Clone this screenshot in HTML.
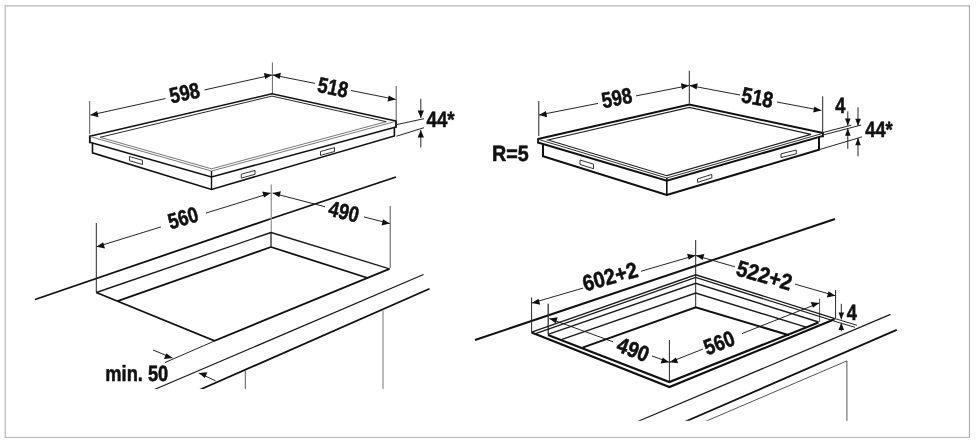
<!DOCTYPE html>
<html><head><meta charset="utf-8"><title>Einbauskizze</title>
<style>
html,body{margin:0;padding:0;background:#fff;}
body{width:976px;height:441px;overflow:hidden;}
svg{display:block;will-change:transform;}
svg text{font-family:"Liberation Sans",sans-serif;font-weight:bold;fill:#111;stroke:#111;stroke-linejoin:round;text-rendering:geometricPrecision;}
</style></head><body>
<svg width="976" height="441" viewBox="0 0 976 441">
<rect x="0" y="0" width="976" height="441" fill="#fff"/>
<line x1="4.60" y1="5.90" x2="970.00" y2="5.90" stroke="#cbcbcb" stroke-width="1.6" stroke-linecap="butt"/>
<line x1="5.30" y1="5.10" x2="5.30" y2="438.00" stroke="#c4c4c4" stroke-width="1.5" stroke-linecap="butt"/>
<line x1="969.40" y1="5.10" x2="969.40" y2="438.00" stroke="#9c9c9c" stroke-width="0.9" stroke-linecap="butt"/>
<line x1="4.60" y1="437.40" x2="970.00" y2="437.40" stroke="#b4b4b4" stroke-width="1.0" stroke-linecap="butt"/>
<line x1="89.70" y1="101.00" x2="89.70" y2="134.00" stroke="#555" stroke-width="1.0" stroke-linecap="butt"/>
<line x1="272.40" y1="62.50" x2="272.40" y2="93.00" stroke="#666" stroke-width="1.0" stroke-linecap="butt"/>
<line x1="396.20" y1="86.00" x2="396.20" y2="120.00" stroke="#555" stroke-width="1.0" stroke-linecap="butt"/>
<line x1="90.30" y1="115.10" x2="165.50" y2="98.51" stroke="#262626" stroke-width="1.0" stroke-linecap="butt"/>
<line x1="204.50" y1="89.91" x2="272.10" y2="75.00" stroke="#262626" stroke-width="1.0" stroke-linecap="butt"/>
<polygon points="90.30,115.10 97.15,110.99 98.51,117.15" fill="#111"/>
<polygon points="272.10,75.00 265.25,79.11 263.89,72.95" fill="#111"/>
<line x1="272.70" y1="75.00" x2="315.00" y2="83.39" stroke="#262626" stroke-width="1.0" stroke-linecap="butt"/>
<line x1="351.00" y1="90.53" x2="395.70" y2="99.40" stroke="#262626" stroke-width="1.0" stroke-linecap="butt"/>
<polygon points="272.70,75.00 280.86,72.84 279.63,79.02" fill="#111"/>
<polygon points="395.70,99.40 387.54,101.56 388.77,95.38" fill="#111"/>
<text transform="translate(184.50,92.50) rotate(-12) skewX(0) scale(0.83000,1.00000)" x="0" y="7.88" font-size="22" stroke-width="0.55" text-anchor="middle">598</text>
<text transform="translate(333.00,87.00) rotate(11.5) skewX(0) scale(0.83000,1.00000)" x="0" y="7.88" font-size="22" stroke-width="0.55" text-anchor="middle">518</text>
<path d="M89.80,136.30 L272.00,93.80 L396.00,121.00" fill="none" stroke="#111" stroke-width="1.5" stroke-linejoin="miter"/>
<path d="M89.80,136.50 L211.50,171.00 L396.00,121.30" fill="none" stroke="#777" stroke-width="1.0" stroke-linejoin="miter"/>
<path d="M100.00,137.30 L211.50,168.80 L386.20,121.70" fill="none" stroke="#777" stroke-width="1.0" stroke-linejoin="miter"/>
<path d="M100.00,137.30 L272.00,96.10 L386.20,121.70" fill="none" stroke="#2a2a2a" stroke-width="1.0" stroke-linejoin="miter"/>
<path d="M89.80,142.30 L211.50,177.00 L396.00,127.00" fill="none" stroke="#111" stroke-width="1.6" stroke-linejoin="miter"/>
<line x1="89.80" y1="135.50" x2="89.80" y2="143.20" stroke="#111" stroke-width="1.8" stroke-linecap="butt"/>
<line x1="396.00" y1="120.20" x2="396.00" y2="127.80" stroke="#111" stroke-width="1.8" stroke-linecap="butt"/>
<path d="M92.50,143.00 L92.50,152.80 L211.50,189.40 L394.40,136.00 L394.40,127.50" fill="none" stroke="#111" stroke-width="1.6" stroke-linejoin="miter"/>
<line x1="211.50" y1="171.00" x2="211.50" y2="190.00" stroke="#111" stroke-width="1.4" stroke-linecap="butt"/>
<path d="M129.40,156.50 L142.50,160.30 L142.50,164.50 L129.40,160.70 Z" fill="none" stroke="#333" stroke-width="1.0" stroke-linejoin="round"/>
<path d="M241.30,174.20 L255.00,170.40 L255.00,174.30 L241.30,178.10 Z" fill="none" stroke="#333" stroke-width="1.0" stroke-linejoin="round"/>
<path d="M320.50,151.50 L334.50,147.60 L334.50,151.50 L320.50,155.40 Z" fill="none" stroke="#333" stroke-width="1.0" stroke-linejoin="round"/>
<line x1="420.80" y1="98.80" x2="420.80" y2="118.00" stroke="#262626" stroke-width="1.0" stroke-linecap="butt"/>
<polygon points="420.80,118.00 417.65,110.40 423.95,110.40" fill="#111"/>
<line x1="420.80" y1="130.00" x2="420.80" y2="147.50" stroke="#262626" stroke-width="1.0" stroke-linecap="butt"/>
<polygon points="420.80,130.00 423.95,137.60 417.65,137.60" fill="#111"/>
<line x1="397.00" y1="124.50" x2="424.00" y2="118.70" stroke="#262626" stroke-width="1.0" stroke-linecap="butt"/>
<line x1="396.50" y1="136.20" x2="424.00" y2="127.70" stroke="#262626" stroke-width="1.0" stroke-linecap="butt"/>
<text transform="translate(440.60,119.30) rotate(0) skewX(0) scale(0.85000,1.00000)" x="0" y="7.88" font-size="22" stroke-width="0.55" text-anchor="middle">44*</text>
<line x1="35.00" y1="299.50" x2="270.00" y2="219.00" stroke="#111" stroke-width="1.8" stroke-linecap="butt"/>
<line x1="270.00" y1="219.00" x2="396.00" y2="177.00" stroke="#111" stroke-width="1.8" stroke-linecap="butt"/>
<line x1="96.30" y1="223.00" x2="96.30" y2="292.50" stroke="#262626" stroke-width="1.0" stroke-linecap="butt"/>
<line x1="271.30" y1="184.40" x2="271.30" y2="232.50" stroke="#999" stroke-width="1.3" stroke-linecap="butt"/>
<line x1="271.00" y1="232.00" x2="271.00" y2="247.00" stroke="#1a1a1a" stroke-width="1.2" stroke-linecap="butt"/>
<line x1="390.20" y1="206.00" x2="390.20" y2="268.00" stroke="#666" stroke-width="1.1" stroke-linecap="butt"/>
<line x1="96.60" y1="246.80" x2="161.00" y2="226.92" stroke="#262626" stroke-width="1.0" stroke-linecap="butt"/>
<line x1="206.00" y1="213.04" x2="270.60" y2="193.10" stroke="#262626" stroke-width="1.0" stroke-linecap="butt"/>
<polygon points="96.60,246.80 103.14,242.36 104.99,248.38" fill="#111"/>
<polygon points="270.60,193.10 264.06,197.54 262.21,191.52" fill="#111"/>
<line x1="272.60" y1="193.10" x2="325.00" y2="206.74" stroke="#262626" stroke-width="1.0" stroke-linecap="butt"/>
<line x1="364.00" y1="216.89" x2="389.80" y2="223.60" stroke="#262626" stroke-width="1.0" stroke-linecap="butt"/>
<polygon points="272.60,193.10 280.90,191.26 279.31,197.36" fill="#111"/>
<polygon points="389.80,223.60 381.50,225.44 383.09,219.34" fill="#111"/>
<text transform="translate(183.00,217.60) rotate(-16) skewX(0) scale(0.83000,1.00000)" x="0" y="7.88" font-size="22" stroke-width="0.55" text-anchor="middle">560</text>
<text transform="translate(344.00,211.40) rotate(14) skewX(0) scale(0.83000,1.00000)" x="0" y="7.88" font-size="22" stroke-width="0.55" text-anchor="middle">490</text>
<line x1="96.30" y1="292.50" x2="271.00" y2="232.50" stroke="#1a1a1a" stroke-width="1.35" stroke-linecap="butt"/>
<line x1="271.00" y1="232.50" x2="389.50" y2="268.80" stroke="#1a1a1a" stroke-width="1.35" stroke-linecap="butt"/>
<line x1="117.50" y1="301.20" x2="271.00" y2="247.00" stroke="#111" stroke-width="1.8" stroke-linecap="butt"/>
<line x1="271.00" y1="247.00" x2="367.80" y2="278.00" stroke="#111" stroke-width="1.8" stroke-linecap="butt"/>
<path d="M96.30,292.50 L214.50,340.80 L389.50,268.80" fill="none" stroke="#111" stroke-width="1.8" stroke-linejoin="miter"/>
<line x1="423.50" y1="274.50" x2="148.61" y2="392.00" stroke="#1a1a1a" stroke-width="1.25" stroke-linecap="butt"/>
<line x1="429.50" y1="288.80" x2="194.70" y2="392.00" stroke="#111" stroke-width="1.8" stroke-linecap="butt"/>
<line x1="214.50" y1="341.00" x2="165.00" y2="362.50" stroke="#262626" stroke-width="1.0" stroke-linecap="butt"/>
<line x1="245.30" y1="371.00" x2="245.30" y2="392.00" stroke="#555" stroke-width="1.0" stroke-linecap="butt"/>
<line x1="383.00" y1="310.50" x2="383.00" y2="392.00" stroke="#777" stroke-width="1.0" stroke-linecap="butt"/>
<rect x="120" y="389" width="300" height="8" fill="#fff"/>
<line x1="153.00" y1="350.00" x2="172.50" y2="358.00" stroke="#262626" stroke-width="1.0" stroke-linecap="butt"/>
<polygon points="172.50,358.00 163.94,359.04 166.33,353.21" fill="#111"/>
<line x1="215.50" y1="380.80" x2="198.80" y2="373.00" stroke="#262626" stroke-width="1.0" stroke-linecap="butt"/>
<polygon points="198.80,373.00 207.43,372.26 204.77,377.97" fill="#111"/>
<text transform="translate(136.80,372.80) rotate(0) skewX(0) scale(0.83000,1.00000)" x="0" y="7.88" font-size="22" stroke-width="0.55" text-anchor="middle">min. 50</text>
<line x1="538.80" y1="101.00" x2="538.80" y2="136.00" stroke="#262626" stroke-width="1.0" stroke-linecap="butt"/>
<line x1="689.30" y1="70.80" x2="689.30" y2="103.50" stroke="#262626" stroke-width="1.0" stroke-linecap="butt"/>
<line x1="822.70" y1="96.30" x2="822.70" y2="133.00" stroke="#262626" stroke-width="1.0" stroke-linecap="butt"/>
<line x1="539.00" y1="115.00" x2="598.00" y2="103.40" stroke="#262626" stroke-width="1.0" stroke-linecap="butt"/>
<line x1="636.00" y1="95.92" x2="689.00" y2="85.50" stroke="#262626" stroke-width="1.0" stroke-linecap="butt"/>
<polygon points="539.00,115.00 545.94,110.99 547.15,117.17" fill="#111"/>
<polygon points="689.00,85.50 682.06,89.51 680.85,83.33" fill="#111"/>
<line x1="689.60" y1="85.50" x2="740.00" y2="95.03" stroke="#262626" stroke-width="1.0" stroke-linecap="butt"/>
<line x1="777.00" y1="102.02" x2="821.30" y2="110.40" stroke="#262626" stroke-width="1.0" stroke-linecap="butt"/>
<polygon points="689.60,85.50 697.73,83.29 696.56,89.48" fill="#111"/>
<polygon points="821.30,110.40 813.17,112.61 814.34,106.42" fill="#111"/>
<text transform="translate(616.80,97.50) rotate(-11) skewX(0) scale(0.83000,1.00000)" x="0" y="7.88" font-size="22" stroke-width="0.55" text-anchor="middle">598</text>
<text transform="translate(757.50,97.20) rotate(10.5) skewX(0) scale(0.86000,1.00000)" x="0" y="7.88" font-size="22" stroke-width="0.55" text-anchor="middle">518</text>
<text transform="translate(510.40,153.50) rotate(0) skewX(0) scale(0.89500,1.00000)" x="0" y="7.88" font-size="22" stroke-width="0.55" text-anchor="middle">R=5</text>
<path d="M538.00,139.00 L689.30,104.60 L823.00,133.00" fill="none" stroke="#111" stroke-width="2.0" stroke-linejoin="miter"/>
<path d="M538.00,139.30 L666.80,178.00 L823.00,133.30" fill="none" stroke="#333" stroke-width="1.0" stroke-linejoin="miter"/>
<path d="M548.00,140.00 L666.80,175.70 L811.00,134.30 L689.30,107.30 Z" fill="none" stroke="#222" stroke-width="1.2" stroke-linejoin="miter"/>
<path d="M538.00,142.50 L666.80,180.60 L823.00,135.90" fill="none" stroke="#111" stroke-width="2.0" stroke-linejoin="miter"/>
<line x1="538.00" y1="138.20" x2="538.00" y2="143.60" stroke="#111" stroke-width="1.8" stroke-linecap="butt"/>
<line x1="823.00" y1="132.20" x2="823.00" y2="137.30" stroke="#111" stroke-width="1.8" stroke-linecap="butt"/>
<path d="M543.00,144.50 L543.00,156.30 L666.80,195.00 L819.00,149.80 L819.00,137.00" fill="none" stroke="#111" stroke-width="2.0" stroke-linejoin="miter"/>
<line x1="666.80" y1="178.00" x2="666.80" y2="195.50" stroke="#111" stroke-width="1.6" stroke-linecap="butt"/>
<path d="M580.00,160.00 L593.50,164.20 L593.50,168.70 L580.00,164.50 Z" fill="none" stroke="#333" stroke-width="1.0" stroke-linejoin="round"/>
<path d="M697.50,178.90 L711.80,174.40 L711.80,177.90 L697.50,182.40 Z" fill="none" stroke="#333" stroke-width="1.0" stroke-linejoin="round"/>
<path d="M781.00,153.80 L796.30,150.00 L796.30,153.80 L781.00,157.60 Z" fill="none" stroke="#333" stroke-width="1.0" stroke-linejoin="round"/>
<line x1="823.00" y1="132.50" x2="851.30" y2="125.20" stroke="#262626" stroke-width="1.0" stroke-linecap="butt"/>
<line x1="823.00" y1="135.00" x2="861.30" y2="125.00" stroke="#262626" stroke-width="1.0" stroke-linecap="butt"/>
<line x1="820.00" y1="149.40" x2="862.00" y2="136.90" stroke="#262626" stroke-width="1.0" stroke-linecap="butt"/>
<line x1="847.80" y1="111.30" x2="847.80" y2="125.60" stroke="#262626" stroke-width="1.0" stroke-linecap="butt"/>
<polygon points="847.80,125.80 845.00,118.60 850.60,118.60" fill="#111"/>
<line x1="847.80" y1="128.60" x2="847.80" y2="148.80" stroke="#262626" stroke-width="1.0" stroke-linecap="butt"/>
<polygon points="847.80,128.60 850.60,135.80 845.00,135.80" fill="#111"/>
<line x1="858.00" y1="107.30" x2="858.00" y2="126.00" stroke="#262626" stroke-width="1.0" stroke-linecap="butt"/>
<polygon points="858.00,126.00 855.20,118.80 860.80,118.80" fill="#111"/>
<line x1="858.00" y1="138.00" x2="858.00" y2="156.30" stroke="#262626" stroke-width="1.0" stroke-linecap="butt"/>
<polygon points="858.00,138.00 860.80,145.20 855.20,145.20" fill="#111"/>
<text transform="translate(840.30,105.50) rotate(0) skewX(0) scale(0.83000,1.00000)" x="0" y="7.88" font-size="22" stroke-width="0.55" text-anchor="middle">4</text>
<text transform="translate(879.00,129.30) rotate(0) skewX(0) scale(0.83000,1.00000)" x="0" y="7.88" font-size="22" stroke-width="0.55" text-anchor="middle">44*</text>
<line x1="475.00" y1="340.00" x2="835.00" y2="219.00" stroke="#111" stroke-width="2.0" stroke-linecap="butt"/>
<line x1="531.60" y1="297.50" x2="531.60" y2="332.50" stroke="#262626" stroke-width="1.0" stroke-linecap="butt"/>
<line x1="548.20" y1="303.80" x2="548.20" y2="334.40" stroke="#333" stroke-width="1.3" stroke-linecap="butt"/>
<line x1="695.70" y1="240.00" x2="695.70" y2="307.00" stroke="#262626" stroke-width="1.0" stroke-linecap="butt"/>
<line x1="835.60" y1="290.00" x2="835.60" y2="318.50" stroke="#262626" stroke-width="1.0" stroke-linecap="butt"/>
<line x1="819.60" y1="298.80" x2="819.60" y2="322.00" stroke="#555" stroke-width="1.0" stroke-linecap="butt"/>
<line x1="669.40" y1="340.00" x2="669.40" y2="382.00" stroke="#262626" stroke-width="1.0" stroke-linecap="butt"/>
<line x1="531.90" y1="303.00" x2="583.00" y2="288.12" stroke="#262626" stroke-width="1.0" stroke-linecap="butt"/>
<line x1="641.00" y1="271.24" x2="695.40" y2="255.40" stroke="#262626" stroke-width="1.0" stroke-linecap="butt"/>
<polygon points="531.90,303.00 538.50,298.63 540.26,304.67" fill="#111"/>
<polygon points="695.40,255.40 688.80,259.77 687.04,253.73" fill="#111"/>
<line x1="696.00" y1="255.60" x2="735.00" y2="266.83" stroke="#262626" stroke-width="1.0" stroke-linecap="butt"/>
<line x1="795.00" y1="284.12" x2="835.20" y2="295.70" stroke="#262626" stroke-width="1.0" stroke-linecap="butt"/>
<polygon points="696.00,255.60 704.35,253.91 702.61,259.96" fill="#111"/>
<polygon points="835.20,295.70 826.85,297.39 828.59,291.34" fill="#111"/>
<text transform="translate(610.00,276.30) rotate(-15.5) skewX(0) scale(0.90000,1.00000)" x="0" y="8.02" font-size="22.4" stroke-width="0.55" text-anchor="middle">602+2</text>
<text transform="translate(764.50,275.00) rotate(16) skewX(0) scale(0.90000,1.00000)" x="0" y="8.02" font-size="22.4" stroke-width="0.55" text-anchor="middle">522+2</text>
<line x1="549.30" y1="318.60" x2="613.00" y2="341.78" stroke="#262626" stroke-width="1.0" stroke-linecap="butt"/>
<line x1="652.00" y1="355.98" x2="669.10" y2="362.20" stroke="#262626" stroke-width="1.0" stroke-linecap="butt"/>
<polygon points="549.30,318.60 557.79,317.31 555.64,323.23" fill="#111"/>
<polygon points="669.10,362.20 660.61,363.49 662.76,357.57" fill="#111"/>
<line x1="669.70" y1="362.20" x2="703.00" y2="349.01" stroke="#262626" stroke-width="1.0" stroke-linecap="butt"/>
<line x1="742.00" y1="333.57" x2="819.20" y2="303.00" stroke="#262626" stroke-width="1.0" stroke-linecap="butt"/>
<polygon points="669.70,362.20 675.92,357.46 678.24,363.32" fill="#111"/>
<polygon points="819.20,303.00 812.98,307.74 810.66,301.88" fill="#111"/>
<text transform="translate(633.30,349.30) rotate(21) skewX(0) scale(0.88500,1.00000)" x="0" y="7.88" font-size="22" stroke-width="0.55" text-anchor="middle">490</text>
<text transform="translate(719.00,342.50) rotate(-21) skewX(0) scale(0.85000,1.00000)" x="0" y="7.88" font-size="22" stroke-width="0.55" text-anchor="middle">560</text>
<path d="M531.60,332.10 L695.70,274.80 L835.60,318.80" fill="none" stroke="#1a1a1a" stroke-width="1.3" stroke-linejoin="miter"/>
<path d="M535.50,333.70 L695.70,277.50 L832.50,320.50" fill="none" stroke="#1a1a1a" stroke-width="1.3" stroke-linejoin="miter"/>
<path d="M548.00,334.30 L695.70,283.30 L818.50,322.00" fill="none" stroke="#1a1a1a" stroke-width="1.4" stroke-linejoin="miter"/>
<path d="M562.00,339.30 L695.70,293.10 L806.00,327.20" fill="none" stroke="#1a1a1a" stroke-width="1.4" stroke-linejoin="miter"/>
<path d="M582.50,347.60 L695.70,307.20 L789.00,335.20" fill="none" stroke="#111" stroke-width="2.0" stroke-linejoin="miter"/>
<path d="M531.60,332.50 L669.40,387.00 L834.50,319.30" fill="none" stroke="#111" stroke-width="2.1" stroke-linejoin="miter"/>
<path d="M548.00,335.00 L669.40,382.00 L818.50,322.50" fill="none" stroke="#111" stroke-width="2.1" stroke-linejoin="miter"/>
<line x1="835.60" y1="318.80" x2="857.00" y2="325.30" stroke="#262626" stroke-width="1.0" stroke-linecap="butt"/>
<line x1="833.00" y1="320.80" x2="855.00" y2="327.30" stroke="#262626" stroke-width="1.0" stroke-linecap="butt"/>
<line x1="841.30" y1="303.80" x2="841.30" y2="319.40" stroke="#262626" stroke-width="1.0" stroke-linecap="butt"/>
<polygon points="841.30,319.60 838.50,312.40 844.10,312.40" fill="#111"/>
<line x1="841.30" y1="322.80" x2="841.30" y2="331.30" stroke="#262626" stroke-width="1.0" stroke-linecap="butt"/>
<polygon points="841.30,322.80 844.10,330.00 838.50,330.00" fill="#111"/>
<text transform="translate(851.80,312.00) rotate(0) skewX(0) scale(0.83000,1.00000)" x="0" y="7.88" font-size="22" stroke-width="0.55" text-anchor="middle">4</text>
<line x1="890.50" y1="314.40" x2="631.82" y2="424.00" stroke="#1a1a1a" stroke-width="1.25" stroke-linecap="butt"/>
<line x1="896.70" y1="329.80" x2="679.76" y2="424.00" stroke="#111" stroke-width="1.8" stroke-linecap="butt"/>
<path d="M699.42,424.00 L846.90,360.90 L846.90,424.00" fill="none" stroke="#555" stroke-width="1.0" stroke-linejoin="miter"/>
<rect x="600" y="420.8" width="300" height="8" fill="#fff"/>
</svg>
</body></html>
